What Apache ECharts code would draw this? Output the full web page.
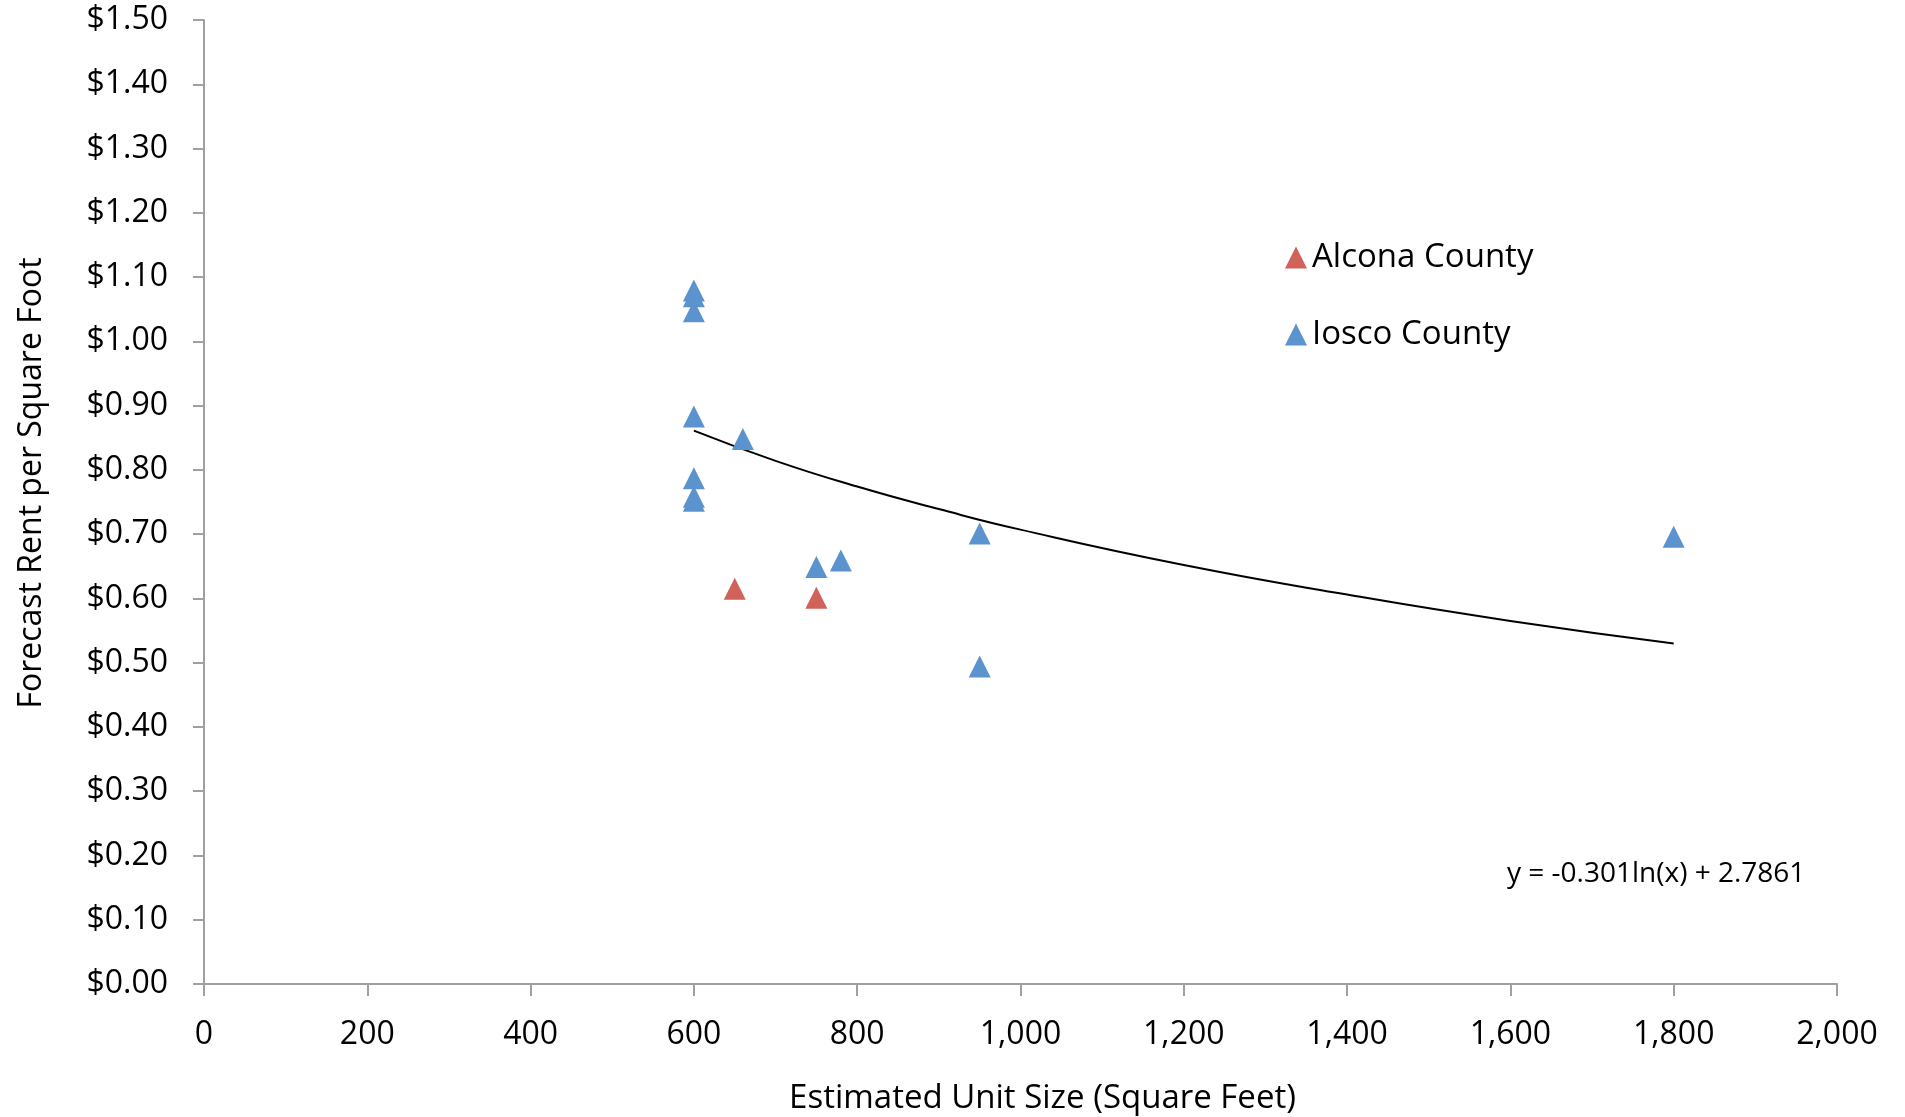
<!DOCTYPE html>
<html>
<head>
<meta charset="utf-8">
<script src="https://cdn.jsdelivr.net/npm/echarts@6/dist/echarts.min.js"></script>
<style>
  html, body { margin: 0; padding: 0; background: #fff; }
  #chart { width: 1905px; height: 1117px; }
</style>
</head>
<body>
<div id="chart"></div>
<script>
// points: [unit size, rent per sq ft]
var alcona = [[650, 0.615], [750, 0.601]]
var iosco = [
  [600, 1.079], [600, 1.070], [600, 1.047], [600, 0.883],
  [660, 0.848], [600, 0.787], [600, 0.758], [600, 0.752],
  [750, 0.649], [780, 0.659], [950, 0.701], [950, 0.494],
  [1800, 0.696]
]
// trend line
var trend = [
  [600, 0.861], [700, 0.814], [800, 0.774], [900, 0.739], [1000, 0.707],
  [1200, 0.652], [1400, 0.606], [1600, 0.565], [1800, 0.530]
]
var trendLabel = 'y = -0.301ln(x) + 2.7861'

var font = 'Open Sans'
var chart = echarts.init(document.getElementById('chart'))

var option = {
  animation: false,
  textStyle: { fontFamily: font },
  grid: { left: 204, right: 68, top: 20, bottom: 133, outerBoundsMode: 'none' },
  legend: {
    orient: 'vertical',
    left: 1280,
    top: 236,
    itemWidth: 22,
    itemHeight: 22,
    itemGap: 44,
    data: ['Alcona County', 'Iosco County'],
    textStyle: { fontSize: 33, color: '#000', fontFamily: font }
  },
  xAxis: {
    type: 'value',
    min: 0,
    max: 2000,
    interval: 200,
    name: 'Estimated Unit Size (Square Feet)',
    nameLocation: 'middle',
    nameGap: 98,
    nameTextStyle: { fontSize: 33, color: '#000', padding: [0, 0, 0, 44] },
    splitLine: { show: false },
    axisLine: { lineStyle: { color: '#a0a0a0', width: 2 } },
    axisTick: { length: 12, lineStyle: { color: '#a0a0a0', width: 2 } },
    axisLabel: {
      fontSize: 32,
      color: '#000',
      margin: 35,
      formatter: function (v) { return v.toLocaleString('en-US') }
    }
  },
  yAxis: {
    type: 'value',
    min: 0,
    max: 1.5,
    interval: 0.1,
    name: 'Forecast Rent per Square Foot',
    nameLocation: 'middle',
    nameGap: 156,
    nameTextStyle: { fontSize: 32, color: '#000', padding: [0, 0, 0, 38] },
    splitLine: { show: false },
    axisLine: { show: true, lineStyle: { color: '#a0a0a0', width: 2 } },
    axisTick: { show: true, length: 11, lineStyle: { color: '#a0a0a0', width: 2 } },
    axisLabel: {
      fontSize: 32,
      color: '#000',
      margin: 36,
      formatter: function (v) { return '$' + v.toFixed(2) }
    }
  },
  series: [
    {
      name: 'Alcona County',
      type: 'scatter',
      symbol: 'triangle',
      symbolSize: 22,
      itemStyle: { color: '#D0625A', opacity: 1 },
      data: alcona
    },
    {
      name: 'Iosco County',
      type: 'scatter',
      symbol: 'triangle',
      symbolSize: 22,
      itemStyle: { color: '#5B93CF', opacity: 1 },
      data: iosco
    },
    {
      name: 'Trend',
      type: 'line',
      smooth: true,
      showSymbol: false,
      lineStyle: { color: '#000', width: 2 },
      data: trend,
      z: 1
    }
  ],
  graphic: [
    {
      type: 'text',
      left: 1507,
      top: 860,
      style: { text: trendLabel, fontSize: 28, fill: '#000', fontFamily: font }
    }
  ]
}
chart.setOption(option)
</script>
</body>
</html>
